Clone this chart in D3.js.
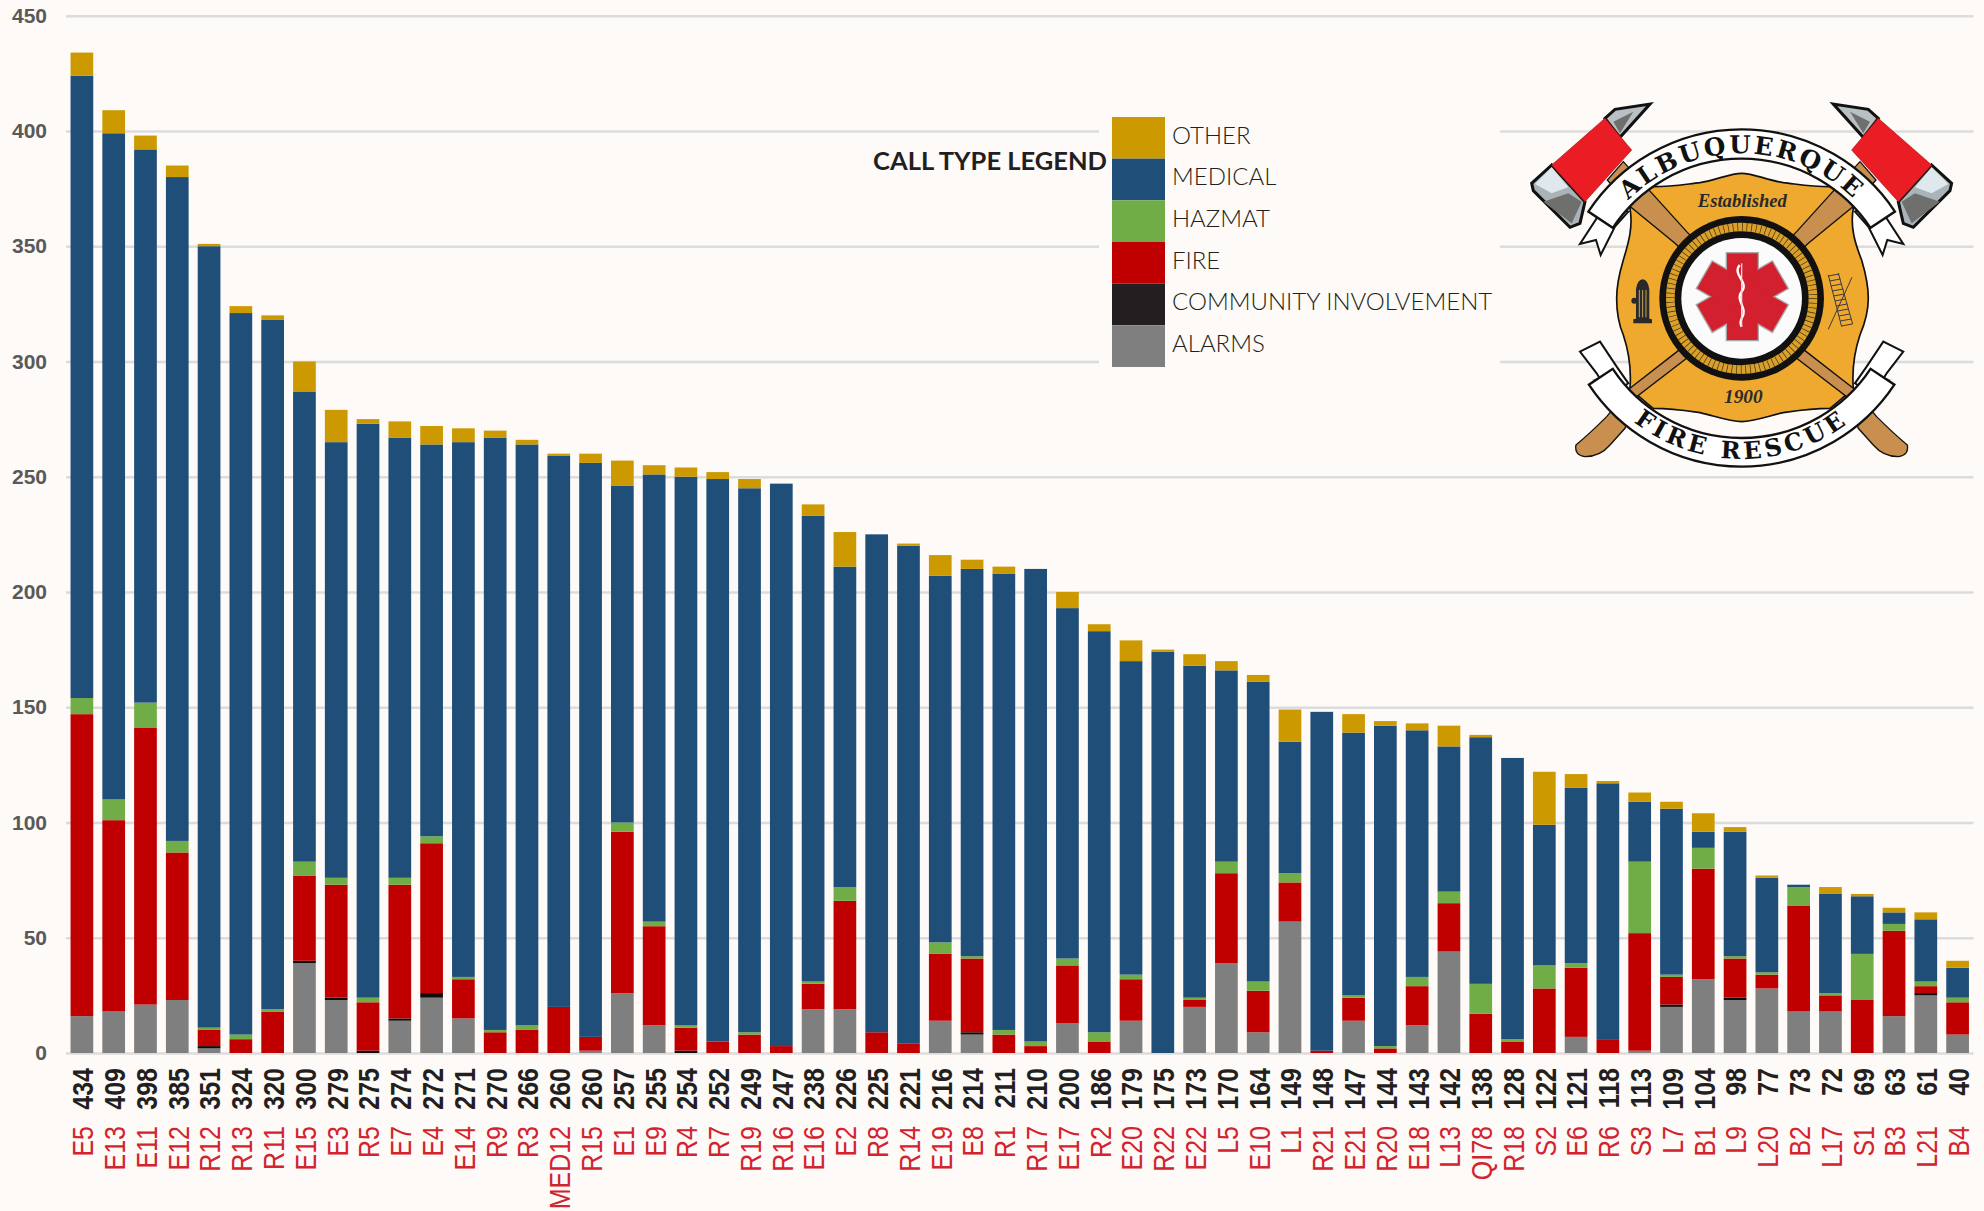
<!DOCTYPE html>
<html>
<head>
<meta charset="utf-8">
<script src="https://cdn.jsdelivr.net/npm/d3@7"></script>
<style>
  html, body { margin: 0; padding: 0; background: #fdfaf7; overflow: hidden; }
  svg { display: block; }
</style>
</head>
<body>
<div id="chart"></div>
<script>
const units = ["E5","E13","E11","E12","R12","R13","R11","E15","E3","R5","E7","E4","E14","R9","R3","MED12","R15","E1","E9","R4","R7","R19","R16","E16","E2","R8","R14","E19","E8","R1","R17","E17","R2","E20","R22","E22","L5","E10","L1","R21","E21","R20","E18","L13","QI78","R18","S2","E6","R6","S3","L7","B1","L9","L20","B2","L17","S1","B3","L21","B4"];
const totals = [434,409,398,385,351,324,320,300,279,275,274,272,271,270,266,260,260,257,255,254,252,249,247,238,226,225,221,216,214,211,210,200,186,179,175,173,170,164,149,148,147,144,143,142,138,128,122,121,118,113,109,104,98,77,73,72,69,63,61,40];
const alarms = [16,18,21,23,2,0,0,39,23,0,14,24,15,0,0,0,1,26,12,0,0,0,0,19,19,0,0,14,8,0,0,13,0,14,0,20,39,9,57,0,14,0,12,44,0,0,0,7,0,1,20,32,23,28,18,18,0,16,25,8];
const community = [0,0,0,0,1,0,0,1,1,1,1,2,0,0,0,0,0,0,0,1,0,0,0,0,0,0,0,0,1,0,0,0,0,0,0,0,0,0,0,0,0,0,0,0,0,0,0,0,0,0,1,0,1,0,0,0,0,0,1,0];
const fire = [131,83,120,64,7,6,18,37,49,21,58,65,17,9,10,20,6,70,43,10,5,8,3,11,47,9,4,29,32,8,3,25,5,18,0,3,39,18,17,1,10,2,17,21,17,5,28,30,6,51,12,48,17,6,46,7,23,37,3,14];
const hazmat = [7,9,11,5,1,2,1,6,3,2,3,3,1,1,2,0,0,4,2,1,0,1,0,1,6,0,0,5,1,2,2,3,4,2,0,1,5,4,4,0,1,1,4,5,13,1,10,2,0,31,1,9,1,1,8,1,20,3,2,2];
const medical = [270,289,240,288,339,313,299,204,189,249,191,170,232,257,252,239,249,146,194,238,244,236,244,202,139,216,216,159,168,198,205,152,174,136,174,144,83,130,57,147,114,139,107,63,107,122,61,76,111,26,72,7,54,41,1,43,25,5,27,13];
const other = [10,10,6,5,1,3,2,13,14,2,7,8,6,3,2,1,4,11,4,4,3,4,0,5,15,0,1,9,4,3,0,7,3,9,1,5,4,3,14,0,8,2,3,9,1,0,23,6,1,4,3,8,2,1,0,3,1,2,3,3];
const yTicks = [0,50,100,150,200,250,300,350,400,450];
const legendLabels = ["OTHER","MEDICAL","HAZMAT","FIRE","COMMUNITY INVOLVEMENT","ALARMS"];
const legendColors = ["#cc9900","#1f4e79","#70ad47","#c00000","#231f20","#7f7f7f"];

const width = 1984;
const height = 1211;

const svg = d3.select("#chart")
  .append("svg")
  .attr("width", width)
  .attr("height", height);

svg.append("rect").attr("width", width).attr("height", height).attr("fill", "#fdfaf7");

const x = d3.scaleBand()
  .domain(units)
  .range([66, 1973.5])
  .paddingInner(0.286)
  .paddingOuter(0.143);

const y = d3.scaleLinear()
  .domain([0, 450])
  .range([1053, 15.7]);

// y axis + gridlines
const yAxis = svg.append("g")
  .attr("transform", "translate(66,0)")
  .call(d3.axisLeft(y).tickValues(yTicks).tickSize(-(1973.5 - 66)).tickPadding(19));
yAxis.select(".domain").remove();
yAxis.selectAll("line").attr("stroke", "#dcdcdc").attr("stroke-width", 2.4);
yAxis.selectAll("text")
  .attr("font-family", "'Liberation Sans', Arial, sans-serif")
  .attr("font-weight", "bold")
  .attr("font-size", "21px")
  .attr("fill", "#595959");

// stacked bars
const rows = units.map((u, i) => ({
  unit: u, alarms: alarms[i], community: community[i], fire: fire[i],
  hazmat: hazmat[i], medical: medical[i], other: other[i]
}));
const keys = ["alarms", "community", "fire", "hazmat", "medical", "other"];
const color = d3.scaleOrdinal()
  .domain(keys)
  .range(["#7f7f7f", "#0d0d0d", "#c00000", "#70ad47", "#1f4e79", "#cc9900"]);
const stack = d3.stack().keys(keys);

svg.selectAll("g.layer")
  .data(stack(rows))
  .enter()
  .append("g")
  .attr("class", "layer")
  .attr("fill", d => color(d.key))
  .selectAll("rect")
  .data(d => d)
  .enter()
  .append("rect")
  .attr("x", d => x(d.data.unit))
  .attr("width", x.bandwidth())
  .attr("y", d => y(d[1]))
  .attr("height", d => y(d[0]) - y(d[1]));

// two rows of rotated labels under the bars
const totalAxis = svg.append("g")
  .attr("transform", "translate(1,1053)")
  .call(d3.axisBottom(x).tickSize(0).tickFormat((d, i) => totals[i]));
totalAxis.select(".domain").remove();
totalAxis.selectAll("text")
  .attr("transform", "rotate(-90) scale(1,1.15)")
  .attr("text-anchor", "end")
  .attr("x", -15)
  .attr("y", 0)
  .attr("dy", ".36em")
  .attr("font-family", "'Liberation Sans', Arial, sans-serif")
  .attr("font-weight", "bold")
  .attr("font-size", "25px")
  .attr("fill", "#231f20");

const unitAxis = svg.append("g")
  .attr("transform", "translate(1,1053)")
  .call(d3.axisBottom(x).tickSize(0));
unitAxis.select(".domain").remove();
unitAxis.selectAll("text")
  .attr("transform", "rotate(-90) scale(1,1.15)")
  .attr("text-anchor", "end")
  .attr("x", -73)
  .attr("y", 0)
  .attr("dy", ".36em")
  .attr("font-family", "'Liberation Sans', Arial, sans-serif")
  .attr("font-size", "25px")
  .attr("fill", "#d2232f");

// legend sits on a box that hides the gridlines
svg.append("rect").attr("x", 1099).attr("y", 100).attr("width", 401).attr("height", 275).attr("fill", "#fdfaf7");

const legendRow = d3.scaleBand().domain(legendLabels).range([117, 367]);
const legend = svg.append("g");
legend.selectAll("rect")
  .data(legendLabels)
  .enter()
  .append("rect")
  .attr("x", 1112)
  .attr("y", d => legendRow(d))
  .attr("width", 53)
  .attr("height", legendRow.bandwidth())
  .attr("fill", (d, i) => legendColors[i]);
legend.selectAll("text")
  .data(legendLabels)
  .enter()
  .append("text")
  .attr("x", 1172)
  .attr("y", d => legendRow(d) + legendRow.bandwidth() / 2 - 2.5)
  .attr("dy", ".35em")
  .attr("font-family", "Lato, sans-serif")
  .attr("font-weight", 300)
  .attr("font-size", "24px")
  .attr("fill", "#231f20")
  .text(d => d);
svg.append("text")
  .attr("x", 1107)
  .attr("y", 161)
  .attr("dy", ".35em")
  .attr("text-anchor", "end")
  .attr("font-family", "Lato, sans-serif")
  .attr("font-weight", "bold")
  .attr("font-size", "25.5px")
  .attr("fill", "#231f20")
  .text("CALL TYPE LEGEND");

// logo, drawn in a 3x coordinate space
const logo = svg.append("g").attr("transform", "translate(1500,80) scale(0.3333)");
const ink = "#111";

function drawHandle(g) {
  g.append("path")
    .attr("d", "M370 245 L560 455 L915 812 L1060 925 L1130 1010 Q1180 1060 1222 1095 Q1228 1125 1195 1130 Q1150 1130 1120 1095 L1075 1045 L1040 950 L890 835 L525 490 L385 375 L322 300 Z")
    .attr("fill", "#c98f4f").attr("stroke", ink).attr("stroke-width", 4);
}

function drawAxe(g) {
  g.append("path").attr("d", "M155 255 L95 310 L100 332 L210 442 L240 430 L255 365 Z")
    .attr("fill", "#a9b3b8").attr("stroke", ink).attr("stroke-width", 9);
  g.append("path").attr("d", "M155 262 L105 312 L155 340 L205 322 Z").attr("fill", "#dfe8ec");
  g.append("path").attr("d", "M130 365 L205 340 L245 365 L215 430 Z").attr("fill", "#6f6f6d");
  g.append("path").attr("d", "M315 115 L345 88 L450 72 L360 172 Z")
    .attr("fill", "#b9c0c4").attr("stroke", ink).attr("stroke-width", 9);
  g.append("path").attr("d", "M340 125 L400 95 L360 160 Z").attr("fill", "#6f6f6d");
  g.append("path").attr("d", "M155 255 L315 115 L395 210 L255 365 Z")
    .attr("fill", "#ea1c24").attr("stroke", "#a8151b").attr("stroke-width", 2);
}

function drawTails(g) {
  g.append("path").attr("d", "M330 380 L385 395 L345 440 L302 525 L288 480 L240 492 L300 400 Z")
    .attr("fill", "#fff").attr("stroke", ink).attr("stroke-width", 6);
  g.append("path").attr("d", "M300 395 L345 385 L325 412 Z").attr("fill", "#9a9a9a");
  g.append("path").attr("d", "M240 815 L300 785 L350 860 L385 910 L330 945 L290 880 Z")
    .attr("fill", "#fff").attr("stroke", ink).attr("stroke-width", 6);
  g.append("path").attr("d", "M275 900 L330 880 L345 915 Z").attr("fill", "#9a9a9a");
}

const leftSide = logo.append("g");
const rightSide = logo.append("g").attr("transform", "translate(1450,0) scale(-1,1)");
[leftSide, rightSide].forEach(g => { drawHandle(g); drawAxe(g); });

logo.append("path")
  .attr("d", "M460 320 C520 320 560 312 600 308 C650 300 690 280 725 280 C760 280 800 300 850 308 C890 312 930 320 990 320 Q1010 330 1060 385 C1050 440 1065 490 1085 540 C1100 590 1105 620 1105 655 C1105 690 1095 730 1080 765 C1065 810 1055 860 1060 925 Q1010 970 990 985 C930 985 890 992 850 998 C800 1010 760 1025 725 1025 C690 1025 650 1010 600 998 C560 992 520 985 460 985 Q440 970 390 925 C395 860 385 810 370 765 C355 730 350 690 350 655 C350 620 355 590 370 540 C385 490 400 440 390 385 Q440 330 460 320 Z")
  .attr("fill", "#efa92f").attr("stroke", ink).attr("stroke-width", 5);

// handles cross over the shield
[leftSide, rightSide].forEach(g => logo.node().appendChild(g.node()));
[leftSide, rightSide].forEach(drawTails);

const cx = 725, cy = 655;
logo.append("circle").attr("cx", cx).attr("cy", cy).attr("r", 247).attr("fill", ink);
logo.append("circle").attr("cx", cx).attr("cy", cy).attr("r", 214).attr("fill", "none")
  .attr("stroke", "#d9a02b").attr("stroke-width", 26);
logo.append("circle").attr("cx", cx).attr("cy", cy).attr("r", 214).attr("fill", "none")
  .attr("stroke", "#3a2a10").attr("stroke-width", 26).attr("stroke-dasharray", "2 12");
logo.append("circle").attr("cx", cx).attr("cy", cy).attr("r", 181).attr("fill", "#fbfbfb");

// star of life
const star = logo.append("g").attr("transform", `translate(${cx + 2},${cy - 5})`);
[0, 60, 120].forEach(a => {
  star.append("rect").attr("x", -46).attr("y", -130).attr("width", 92).attr("height", 260)
    .attr("fill", "#a9a9a9").attr("stroke", "#a9a9a9").attr("stroke-width", 8)
    .attr("transform", `rotate(${a})`);
});
[0, 60, 120].forEach(a => {
  star.append("rect").attr("x", -46).attr("y", -130).attr("width", 92).attr("height", 260)
    .attr("fill", "#d2202e").attr("transform", `rotate(${a})`);
});
star.append("path").attr("d", "M-8 -95 C-32 -65 22 -45 -2 -15 C-24 10 20 35 -2 65 C-8 78 -5 85 -2 90")
  .attr("fill", "none").attr("stroke", "#fff").attr("stroke-width", 7);
star.append("line").attr("x1", -2).attr("x2", -2).attr("y1", -100).attr("y2", 90)
  .attr("stroke", "#f3d7d9").attr("stroke-width", 4);

// hydrant
logo.append("path").attr("d", "M400 730 L400 718 L408 716 L408 628 Q412 600 428 598 Q444 600 448 628 L448 716 L456 718 L456 730 Z").attr("fill", "#2a2a2a");
logo.append("circle").attr("cx", 403).attr("cy", 662).attr("r", 9).attr("fill", "#2a2a2a");
[418, 428, 438].forEach(px => {
  logo.append("line").attr("x1", px).attr("x2", px).attr("y1", 630).attr("y2", 712)
    .attr("stroke", "#c9a25a").attr("stroke-width", 3);
});

// ladder
const ladder = logo.append("g").attr("stroke", "#3a3a3a").attr("stroke-width", 3).attr("fill", "none");
ladder.append("line").attr("x1", 985).attr("y1", 585).attr("x2", 1025).attr("y2", 740);
ladder.append("line").attr("x1", 1015).attr("y1", 580).attr("x2", 1058).attr("y2", 732);
d3.range(0, 11).forEach(i => {
  ladder.append("line")
    .attr("x1", 985 + i * 4).attr("y1", 588 + i * 15)
    .attr("x2", 1018 + i * 4).attr("y2", 582 + i * 15);
});
ladder.append("line").attr("x1", 1056).attr("y1", 592).attr("x2", 985).attr("y2", 748);

// ribbons
const ribbonTop = d3.arc().innerRadius(464).outerRadius(552)
  .startAngle(-0.985).endAngle(0.985);
logo.append("path").attr("transform", "translate(725,700)").attr("d", ribbonTop())
  .attr("fill", "#fff").attr("stroke", ink).attr("stroke-width", 7);
const ribbonBottom = d3.arc().innerRadius(464).outerRadius(550)
  .startAngle(Math.PI - 0.985).endAngle(Math.PI + 0.985);
logo.append("path").attr("transform", "translate(725,610)").attr("d", ribbonBottom())
  .attr("fill", "#fff").attr("stroke", ink).attr("stroke-width", 7);

const defs = svg.append("defs");
defs.append("path").attr("id", "arcTop").attr("d", "M245 700 A480 480 0 0 1 1205 700");
defs.append("path").attr("id", "arcBottom").attr("d", "M198 610 A527 527 0 0 0 1252 610");

function ribbonText(id, label, size, spacing) {
  logo.append("text")
    .attr("font-family", "'DejaVu Serif', serif")
    .attr("font-weight", "bold")
    .attr("font-size", size)
    .attr("letter-spacing", spacing)
    .attr("fill", "#111")
    .attr("text-anchor", "middle")
    .append("textPath")
    .attr("href", "#" + id)
    .attr("startOffset", "50%")
    .text(label);
}
ribbonText("arcTop", "ALBUQUERQUE", 74, 8);
ribbonText("arcBottom", "FIRE RESCUE", 72, 12);

logo.append("text").attr("x", 727).attr("y", 380).attr("text-anchor", "middle")
  .attr("font-family", "'Liberation Serif', serif").attr("font-style", "italic").attr("font-weight", "bold")
  .attr("font-size", 56).attr("fill", "#2a2a2a").text("Established");
logo.append("text").attr("x", 730).attr("y", 970).attr("text-anchor", "middle")
  .attr("font-family", "'Liberation Serif', serif").attr("font-style", "italic").attr("font-weight", "bold")
  .attr("font-size", 58).attr("fill", "#2a2a2a").text("1900");
</script>
</body>
</html>
